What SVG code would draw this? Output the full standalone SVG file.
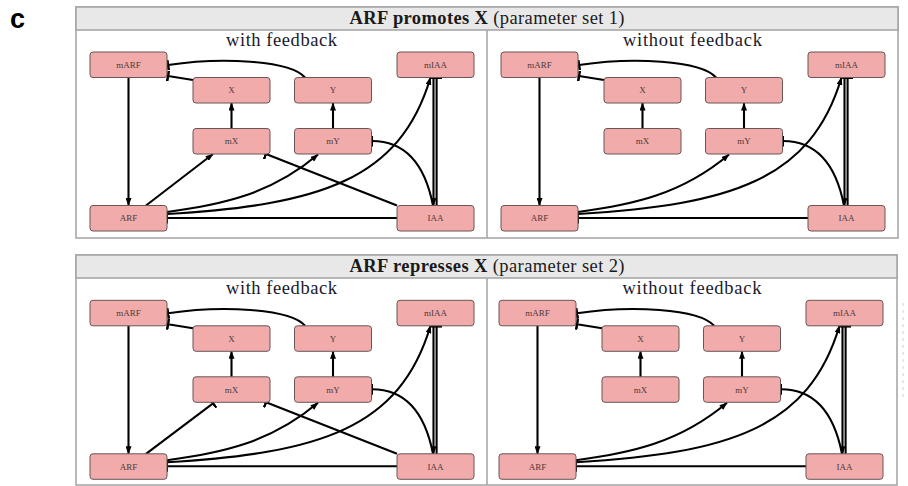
<svg xmlns="http://www.w3.org/2000/svg" width="908" height="486" viewBox="0 0 908 486">
<defs>
<style>
.frame{fill:#ffffff;stroke:#a3a3a3;stroke-width:1.5}
.hdr{fill:#e8e8e8;stroke:#a3a3a3;stroke-width:1.5}
.div{stroke:#a3a3a3;stroke-width:1.5}
.htxt{font-family:"Liberation Serif","Times New Roman",serif;font-size:18.5px;fill:#1a1a1a}
.sub{font-family:"Liberation Serif","Times New Roman",serif;font-size:18.5px;fill:#1a1a2a;text-anchor:middle}
.node rect{fill:#f2abab;stroke:#6a5555;stroke-width:1}
.node text{font-family:"Liberation Serif","Times New Roman",serif;font-size:9px;fill:#4a3a3a;text-anchor:middle}
.e{fill:none;stroke:#000;stroke-width:2.1}
.act{marker-end:url(#arr)}
.inh{marker-end:url(#bar)}
</style>
<marker id="arr" viewBox="0 0 8 6" refX="7.5" refY="3" markerWidth="8" markerHeight="6" markerUnits="userSpaceOnUse" orient="auto">
<path d="M0,0 L8,3 L0,6 z" fill="#000"/>
</marker>
<marker id="bar" viewBox="-1.3 0 2.6 11" refX="0" refY="5.5" markerWidth="2.6" markerHeight="11" markerUnits="userSpaceOnUse" orient="auto">
<rect x="-1.3" y="0" width="2.6" height="11" fill="#000"/>
</marker>
</defs>

<text x="10" y="28" font-family="Liberation Sans, Arial, sans-serif" font-weight="bold" font-size="27" fill="#000">c</text>

<g id="panel-top">
<rect class="frame" x="76" y="7" width="822" height="231"/>
<rect class="hdr" x="76" y="7" width="822" height="23"/>
<line class="div" x1="487" y1="30" x2="487" y2="238"/>
<text class="htxt" x="487" y="24" text-anchor="middle" textLength="275" lengthAdjust="spacing"><tspan font-weight="bold">ARF promotes X</tspan> (parameter set 1)</text>
<text class="sub" x="281.5" y="45.5" textLength="111" lengthAdjust="spacing">with feedback</text>
<text class="sub" x="692.5" y="45.5" textLength="139" lengthAdjust="spacing">without feedback</text>
</g>

<g id="panel-bottom">
<rect class="frame" x="76" y="255" width="821" height="230"/>
<rect class="hdr" x="76" y="255" width="821" height="23"/>
<line class="div" x1="487" y1="278" x2="487" y2="485"/>
<text class="htxt" x="487" y="272" text-anchor="middle" textLength="275" lengthAdjust="spacing"><tspan font-weight="bold">ARF represses X</tspan> (parameter set 2)</text>
<text class="sub" x="281.5" y="294" textLength="111" lengthAdjust="spacing">with feedback</text>
<text class="sub" x="692" y="294" textLength="139" lengthAdjust="spacing">without feedback</text>
</g>
<line x1="903" y1="303" x2="903" y2="397" stroke="#cfcfcf" stroke-width="1" stroke-dasharray="3,4"/>

<g id="A">
<g id="A-edges">
<path class="e act" d="M128.5,77.5 L128.5,205.5"/>
<path class="e inh" d="M193,80 L168,76"/>
<path class="e inh" d="M305,77.5 C290,60 220,57 168,65"/>
<path class="e act" d="M231.5,128.5 L231.5,103"/>
<path class="e act" d="M333,128.5 L333,103"/>
<path class="e act" d="M146,205.5 L213,154"/>
<path class="e inh" d="M397,205.5 L266,154"/>
<path class="e act" d="M167,212 C220,205 270,195 318,154.5"/>
<path class="e act" d="M167,214 C320,205 400,180 430.5,77.5"/>
<path class="e act" d="M433.5,77.5 L433.5,205.5"/>
<path class="e inh" d="M436.6,205.5 L436.6,78"/>
<path class="e inh" d="M433,205.5 C426,170 410,141 372,141"/>
<path class="e inh" d="M397,218 L167,218"/>
</g>
<g id="A-mARF" class="node"><rect x="90" y="52" width="77" height="25.5" rx="3"/><text x="128.5" y="67.8">mARF</text></g>
<g id="A-X" class="node"><rect x="193" y="77.5" width="77" height="25.5" rx="3"/><text x="231.5" y="93.3">X</text></g>
<g id="A-Y" class="node"><rect x="294.5" y="77.5" width="77" height="25.5" rx="3"/><text x="333" y="93.3">Y</text></g>
<g id="A-mIAA" class="node"><rect x="397" y="52" width="77" height="25.5" rx="3"/><text x="435.5" y="67.8">mIAA</text></g>
<g id="A-mX" class="node"><rect x="193" y="128.5" width="77" height="25.5" rx="3"/><text x="231.5" y="144.3">mX</text></g>
<g id="A-mY" class="node"><rect x="294.5" y="128.5" width="77" height="25.5" rx="3"/><text x="333" y="144.3">mY</text></g>
<g id="A-ARF" class="node"><rect x="90" y="205.5" width="77" height="25.5" rx="3"/><text x="128.5" y="221.3">ARF</text></g>
<g id="A-IAA" class="node"><rect x="397" y="205.5" width="77" height="25.5" rx="3"/><text x="435.5" y="221.3">IAA</text></g>
</g>

<g id="B" transform="translate(411,0)">
<g id="B-edges">
<path class="e act" d="M128.5,77.5 L128.5,205.5"/>
<path class="e inh" d="M193,80 L168,76"/>
<path class="e inh" d="M305,77.5 C290,60 220,57 168,65"/>
<path class="e act" d="M231.5,128.5 L231.5,103"/>
<path class="e act" d="M333,128.5 L333,103"/>
<path class="e act" d="M167,212 C220,205 270,195 318,154.5"/>
<path class="e act" d="M167,214 C320,205 400,180 430.5,77.5"/>
<path class="e act" d="M433.5,77.5 L433.5,205.5"/>
<path class="e inh" d="M436.6,205.5 L436.6,78"/>
<path class="e inh" d="M433,205.5 C426,170 410,141 372,141"/>
<path class="e inh" d="M397,218 L167,218"/>
</g>
<g id="B-mARF" class="node"><rect x="90" y="52" width="77" height="25.5" rx="3"/><text x="128.5" y="67.8">mARF</text></g>
<g id="B-X" class="node"><rect x="193" y="77.5" width="77" height="25.5" rx="3"/><text x="231.5" y="93.3">X</text></g>
<g id="B-Y" class="node"><rect x="294.5" y="77.5" width="77" height="25.5" rx="3"/><text x="333" y="93.3">Y</text></g>
<g id="B-mIAA" class="node"><rect x="397" y="52" width="77" height="25.5" rx="3"/><text x="435.5" y="67.8">mIAA</text></g>
<g id="B-mX" class="node"><rect x="193" y="128.5" width="77" height="25.5" rx="3"/><text x="231.5" y="144.3">mX</text></g>
<g id="B-mY" class="node"><rect x="294.5" y="128.5" width="77" height="25.5" rx="3"/><text x="333" y="144.3">mY</text></g>
<g id="B-ARF" class="node"><rect x="90" y="205.5" width="77" height="25.5" rx="3"/><text x="128.5" y="221.3">ARF</text></g>
<g id="B-IAA" class="node"><rect x="397" y="205.5" width="77" height="25.5" rx="3"/><text x="435.5" y="221.3">IAA</text></g>
</g>

<g id="C" transform="translate(0,248.3)">
<g id="C-edges">
<path class="e act" d="M128.5,77.5 L128.5,205.5"/>
<path class="e inh" d="M193,80 L168,76"/>
<path class="e inh" d="M305,77.5 C290,60 220,57 168,65"/>
<path class="e act" d="M231.5,128.5 L231.5,103"/>
<path class="e act" d="M333,128.5 L333,103"/>
<path class="e inh" d="M146,205.5 L213,155"/>
<path class="e inh" d="M397,205.5 L266,154"/>
<path class="e act" d="M167,212 C220,205 270,195 318,154.5"/>
<path class="e act" d="M167,214 C320,205 400,180 430.5,77.5"/>
<path class="e act" d="M433.5,77.5 L433.5,205.5"/>
<path class="e inh" d="M436.6,205.5 L436.6,78"/>
<path class="e inh" d="M433,205.5 C426,170 410,141 372,141"/>
<path class="e inh" d="M397,218 L167,218"/>
</g>
<g id="C-mARF" class="node"><rect x="90" y="52" width="77" height="25.5" rx="3"/><text x="128.5" y="67.8">mARF</text></g>
<g id="C-X" class="node"><rect x="193" y="77.5" width="77" height="25.5" rx="3"/><text x="231.5" y="93.3">X</text></g>
<g id="C-Y" class="node"><rect x="294.5" y="77.5" width="77" height="25.5" rx="3"/><text x="333" y="93.3">Y</text></g>
<g id="C-mIAA" class="node"><rect x="397" y="52" width="77" height="25.5" rx="3"/><text x="435.5" y="67.8">mIAA</text></g>
<g id="C-mX" class="node"><rect x="193" y="128.5" width="77" height="25.5" rx="3"/><text x="231.5" y="144.3">mX</text></g>
<g id="C-mY" class="node"><rect x="294.5" y="128.5" width="77" height="25.5" rx="3"/><text x="333" y="144.3">mY</text></g>
<g id="C-ARF" class="node"><rect x="90" y="205.5" width="77" height="25.5" rx="3"/><text x="128.5" y="221.3">ARF</text></g>
<g id="C-IAA" class="node"><rect x="397" y="205.5" width="77" height="25.5" rx="3"/><text x="435.5" y="221.3">IAA</text></g>
</g>

<g id="D" transform="translate(409,248.3)">
<g id="D-edges">
<path class="e act" d="M128.5,77.5 L128.5,205.5"/>
<path class="e inh" d="M193,80 L168,76"/>
<path class="e inh" d="M305,77.5 C290,60 220,57 168,65"/>
<path class="e act" d="M231.5,128.5 L231.5,103"/>
<path class="e act" d="M333,128.5 L333,103"/>
<path class="e act" d="M167,212 C220,205 270,195 318,154.5"/>
<path class="e act" d="M167,214 C320,205 400,180 430.5,77.5"/>
<path class="e act" d="M433.5,77.5 L433.5,205.5"/>
<path class="e inh" d="M436.6,205.5 L436.6,78"/>
<path class="e inh" d="M433,205.5 C426,170 410,141 372,141"/>
<path class="e inh" d="M397,218 L167,218"/>
</g>
<g id="D-mARF" class="node"><rect x="90" y="52" width="77" height="25.5" rx="3"/><text x="128.5" y="67.8">mARF</text></g>
<g id="D-X" class="node"><rect x="193" y="77.5" width="77" height="25.5" rx="3"/><text x="231.5" y="93.3">X</text></g>
<g id="D-Y" class="node"><rect x="294.5" y="77.5" width="77" height="25.5" rx="3"/><text x="333" y="93.3">Y</text></g>
<g id="D-mIAA" class="node"><rect x="397" y="52" width="77" height="25.5" rx="3"/><text x="435.5" y="67.8">mIAA</text></g>
<g id="D-mX" class="node"><rect x="193" y="128.5" width="77" height="25.5" rx="3"/><text x="231.5" y="144.3">mX</text></g>
<g id="D-mY" class="node"><rect x="294.5" y="128.5" width="77" height="25.5" rx="3"/><text x="333" y="144.3">mY</text></g>
<g id="D-ARF" class="node"><rect x="90" y="205.5" width="77" height="25.5" rx="3"/><text x="128.5" y="221.3">ARF</text></g>
<g id="D-IAA" class="node"><rect x="397" y="205.5" width="77" height="25.5" rx="3"/><text x="435.5" y="221.3">IAA</text></g>
</g>
</svg>
